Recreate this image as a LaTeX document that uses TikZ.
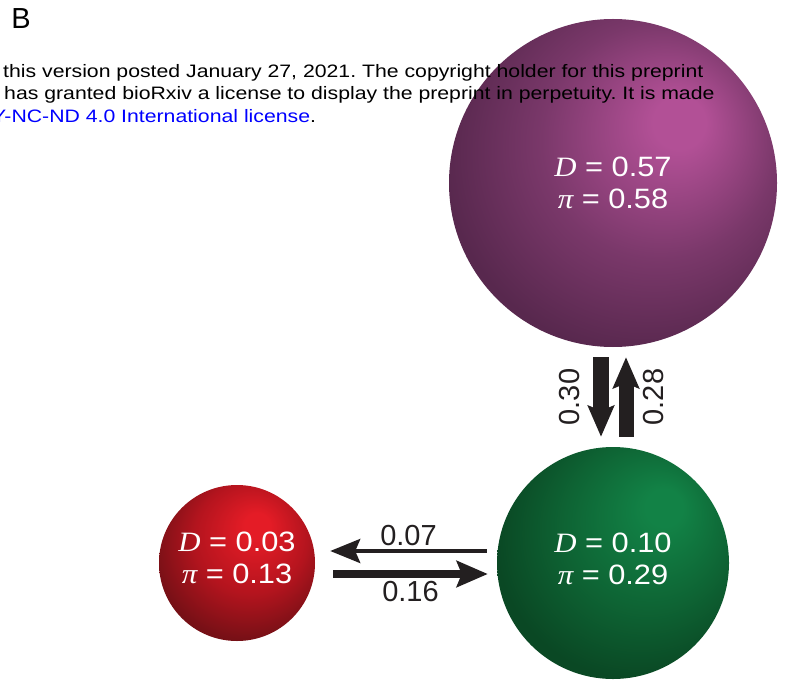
\documentclass[tikz,border=0pt]{standalone}
\usepackage{fontspec}
\setmainfont{Liberation Sans}
\newfontfamily\tmsfont[FakeStretch=1.1]{Liberation Serif}
\newfontfamily\widefont[FakeStretch=1.1]{Liberation Sans}
\newfontfamily\hdrfont[FakeStretch=1.18]{Liberation Sans}
\usepackage{tikz}
\usetikzlibrary{arrows.meta,calc,positioning}
\definecolor{arrowcol}{RGB}{35,31,32}
\definecolor{linkblue}{RGB}{0,0,255}
\definecolor{purplehi}{RGB}{178,80,150}
\definecolor{purplemid}{RGB}{122,56,106}
\definecolor{purplelo}{RGB}{88,40,78}
\definecolor{greenhi}{RGB}{18,130,70}
\definecolor{greenmid}{RGB}{14,100,52}
\definecolor{greenlo}{RGB}{10,72,36}
\definecolor{redhi}{RGB}{228,28,38}
\definecolor{redmid}{RGB}{180,20,30}
\definecolor{redlo}{RGB}{118,16,22}
\pgfdeclareradialshading{purpleball}{\pgfpoint{11bp}{10bp}}{color(0bp)=(purplehi);
  color(4bp)=(purplehi); color(18bp)=(purplemid); color(30bp)=(purplelo); color(50bp)=(purplelo)}
\pgfdeclareradialshading{greenball}{\pgfpoint{12bp}{13bp}}{color(0bp)=(greenhi);
  color(4bp)=(greenhi); color(18bp)=(greenmid); color(30bp)=(greenlo); color(50bp)=(greenlo)}
\pgfdeclareradialshading{redball}{\pgfpoint{7bp}{13bp}}{color(0bp)=(redhi);
  color(4bp)=(redhi); color(18bp)=(redmid); color(30bp)=(redlo); color(50bp)=(redlo)}
\newcommand{\Dsym}{{\tmsfont\itshape D}}
\newcommand{\pisym}{{\tmsfont\itshape π}}
\frenchspacing

\begin{document}
\begin{tikzpicture}[x=1pt,y=-1pt,
  ball/.style={circle,inner sep=0pt},
  balltext/.style={text=white,align=center,inner sep=0pt,
    font=\widefont\fontsize{28}{32}\selectfont},
  rate/.style={text=arrowcol,font=\fontsize{29}{32}\selectfont},
  hdr/.style={anchor=west,inner sep=0pt,font=\hdrfont\fontsize{18}{21}\selectfont},
  flow/.style={arrowcol,-{Stealth[length=31pt,width=26pt,inset=5pt]}}]

  \useasboundingbox (0,0) rectangle (791,684);

  %,  Spheres, 
  \foreach \nm/\sh/\xc/\yc/\dia/\ty/\dv/\pv in {
    purple/purpleball/613/183/328/0/0.57/0.58,
    green/greenball/613/563/232/-4/0.10/0.29,
    red/redball/237/563/156/-5/0.03/0.13%
  }
  {
    \node[ball,shading=\sh,minimum size=\dia pt] (\nm) at (\xc,\yc) {};
    \node[balltext] (\nm-txt) at ($(\nm)+(0,\ty)$)
      {\Dsym{} = \dv\\\pisym{} = \pv};
  }

  %,  Vertical flows, 
  \draw[flow,line width=16pt] ($(purple.south)+(-12,10)$) -- ($(green.north)+(-12,-10)$);
  \draw[flow,line width=15pt] ($(green.north)+(13,-10)$) -- ($(purple.south)+(13,10)$);
  \node[rate,rotate=90] (r30) at ($(purple.south)!0.5!(green.north)+(-43,0)$) {0.30};
  \node[rate,rotate=90] (r28) at ($(purple.south)!0.5!(green.north)+(41,0)$) {0.28};

  %,  Horizontal flows, 
  \draw[flow,line width=4pt,-{Stealth[length=30pt,width=24pt,inset=5pt]}]
    ($(green.west)+(-10,-12)$) -- ($(red.east)+(15,-12)$)
    node[rate,midway,above] (r07) {0.07};
  \draw[flow,line width=8pt] ($(red.east)+(18,11)$) -- ($(green.west)+(-9,11)$)
    node[rate,midway,below] (r16) {0.16};

  %,  Panel letter and header (on top), 
  \node[font=\fontsize{29}{32}\selectfont] (panel) at (21,19) {B};
  \node[hdr] (hdr1) at (3,73)
    {this version posted January 27, 2021. The copyright holder for this preprint};
  \node[hdr] (hdr2) at (4,95)
    {has granted bioRxiv a license to display the preprint in perpetuity. It is made};
  \node[hdr] (hdr3) at (-8,116)
    {\textcolor{linkblue}{Y-NC-ND 4.0 International license}.};

\end{tikzpicture}
\end{document}
